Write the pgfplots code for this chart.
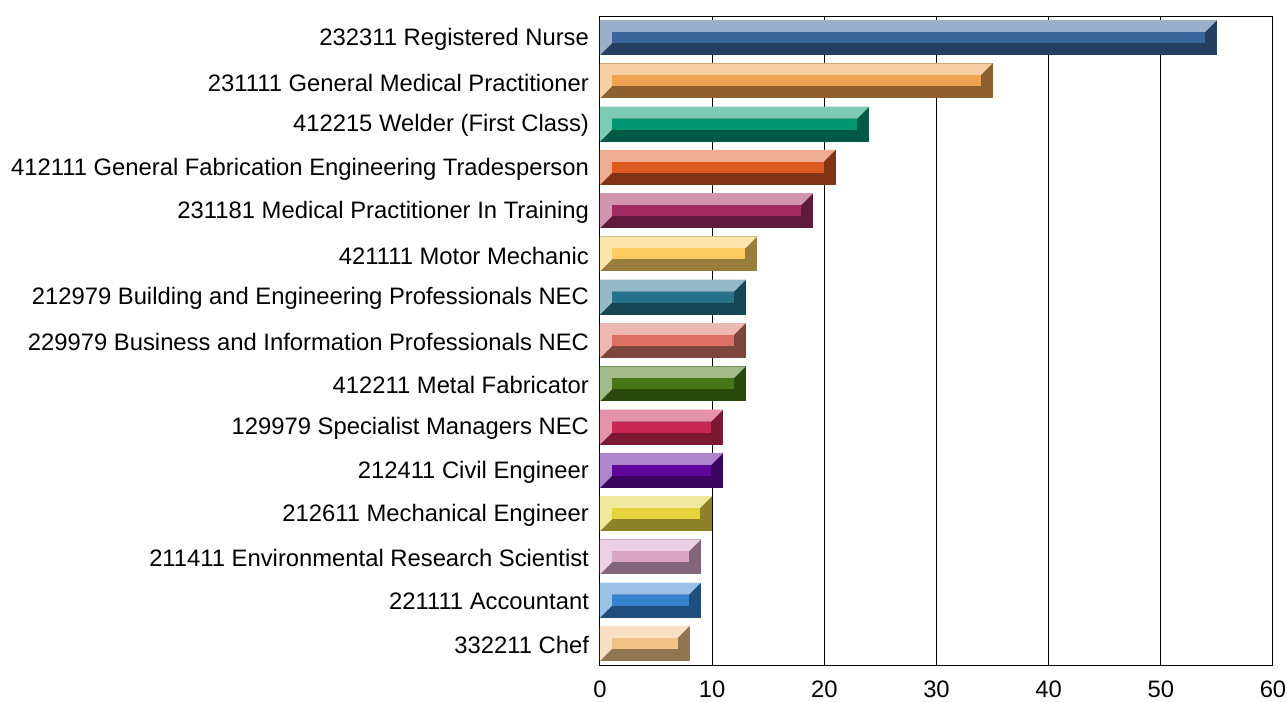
\documentclass[border=0pt]{standalone}
\usepackage{fontspec}
\setmainfont{Liberation Sans}
\usepackage{pgfplots}
\pgfplotsset{compat=1.18}

% light / mid / dark shade for each bar
\definecolor{c1L}{HTML}{9AB0CA}\definecolor{c1M}{HTML}{3A6699}\definecolor{c1D}{HTML}{243F60}
\definecolor{c2L}{HTML}{F6CFA7}\definecolor{c2M}{HTML}{EEA452}\definecolor{c2D}{HTML}{8E5F2F}
\definecolor{c3L}{HTML}{7FCAB5}\definecolor{c3M}{HTML}{009670}\definecolor{c3D}{HTML}{005A44}
\definecolor{c4L}{HTML}{EEAD92}\definecolor{c4M}{HTML}{DD5A20}\definecolor{c4D}{HTML}{833315}
\definecolor{c5L}{HTML}{D295AE}\definecolor{c5M}{HTML}{A22B60}\definecolor{c5D}{HTML}{601A3C}
\definecolor{c6L}{HTML}{FCE4AF}\definecolor{c6M}{HTML}{FECB60}\definecolor{c6D}{HTML}{997D3C}
\definecolor{c7L}{HTML}{94B9C6}\definecolor{c7M}{HTML}{26728A}\definecolor{c7D}{HTML}{174755}
\definecolor{c8L}{HTML}{EDB8B2}\definecolor{c8M}{HTML}{DC7064}\definecolor{c8D}{HTML}{7E453D}
\definecolor{c9L}{HTML}{A2BB88}\definecolor{c9M}{HTML}{487716}\definecolor{c9D}{HTML}{294A0C}
\definecolor{c10L}{HTML}{E493AA}\definecolor{c10M}{HTML}{C82755}\definecolor{c10D}{HTML}{7C1734}
\definecolor{c11L}{HTML}{AE86CB}\definecolor{c11M}{HTML}{5F079A}\definecolor{c11D}{HTML}{3A045F}
\definecolor{c12L}{HTML}{F0E89F}\definecolor{c12M}{HTML}{E3D43E}\definecolor{c12D}{HTML}{8C8226}
\definecolor{c13L}{HTML}{EBD1E3}\definecolor{c13M}{HTML}{DAA6C8}\definecolor{c13D}{HTML}{826579}
\definecolor{c14L}{HTML}{9BC2E6}\definecolor{c14M}{HTML}{3583CE}\definecolor{c14D}{HTML}{1F4E7D}
\definecolor{c15L}{HTML}{F9E0C3}\definecolor{c15M}{HTML}{F1C389}\definecolor{c15D}{HTML}{8F7650}

\pgfdeclareplotmark{blank}{}

% x unit 5.6083pt; bar half height 8.75pt; bevel 6pt
\pgfplotsset{
  bev/.style={xbar, bar width=17.5pt, bar shift=0pt, fill=#1D, draw=none,
    mark=blank, scatter, point meta=x,
    visualization depends on={rawx \as \barval},
    scatter/@pre marker code/.code={%
      \pgfmathsetmacro\La{-\barval*5.6083}%
      \pgfmathsetmacro\Lb{\La+6}%
      \fill[#1L] (\La pt,8.75pt) -- (0pt,8.75pt) -- (-6pt,2.75pt) -- (\Lb pt,2.75pt)
        -- (\Lb pt,-2.75pt) -- (\La pt,-8.75pt) -- cycle;
      \fill[#1M] (\Lb pt,-2.75pt) rectangle (-6pt,2.75pt);
    },
    scatter/@post marker code/.code={},
  },
}

\begin{document}
\begin{tikzpicture}
\useasboundingbox (-300pt,-18.5pt) rectangle (343.5pt,332.5pt);
\begin{axis}[
  x=5.6083pt, y=21.633pt,
  xmin=0, xmax=60, ymin=-0.5, ymax=14.5, y dir=reverse,
  xtick={0,10,...,60}, ytick={0,...,14},
  yticklabels={232311 Registered Nurse, 231111 General Medical Practitioner,
    412215 Welder (First Class), 412111 General Fabrication Engineering Tradesperson,
    231181 Medical Practitioner In Training, 421111 Motor Mechanic,
    212979 Building and Engineering Professionals NEC,
    229979 Business and Information Professionals NEC,
    412211 Metal Fabricator, 129979 Specialist Managers NEC,
    212411 Civil Engineer, 212611 Mechanical Engineer,
    211411 Environmental Research Scientist, 221111 Accountant, 332211 Chef},
  xmajorgrids, major grid style={black, line width=0.5pt},
  axis line style={black, line width=0.5pt},
  major tick length=0pt,
  tick label style={font=\fontsize{11.9}{13}\selectfont},
  /pgf/number format/assume math mode=true,
  xticklabel style={yshift=-4.5pt},
  yticklabel style={xshift=-2pt, yshift=-0.8pt},
]
\addplot[bev=c1] coordinates {(55,0)};
\addplot[bev=c2] coordinates {(35,1)};
\addplot[bev=c3] coordinates {(24,2)};
\addplot[bev=c4] coordinates {(21,3)};
\addplot[bev=c5] coordinates {(19,4)};
\addplot[bev=c6] coordinates {(14,5)};
\addplot[bev=c7] coordinates {(13,6)};
\addplot[bev=c8] coordinates {(13,7)};
\addplot[bev=c9] coordinates {(13,8)};
\addplot[bev=c10] coordinates {(11,9)};
\addplot[bev=c11] coordinates {(11,10)};
\addplot[bev=c12] coordinates {(10,11)};
\addplot[bev=c13] coordinates {(9,12)};
\addplot[bev=c14] coordinates {(9,13)};
\addplot[bev=c15] coordinates {(8,14)};
\end{axis}
\end{tikzpicture}
\end{document}
